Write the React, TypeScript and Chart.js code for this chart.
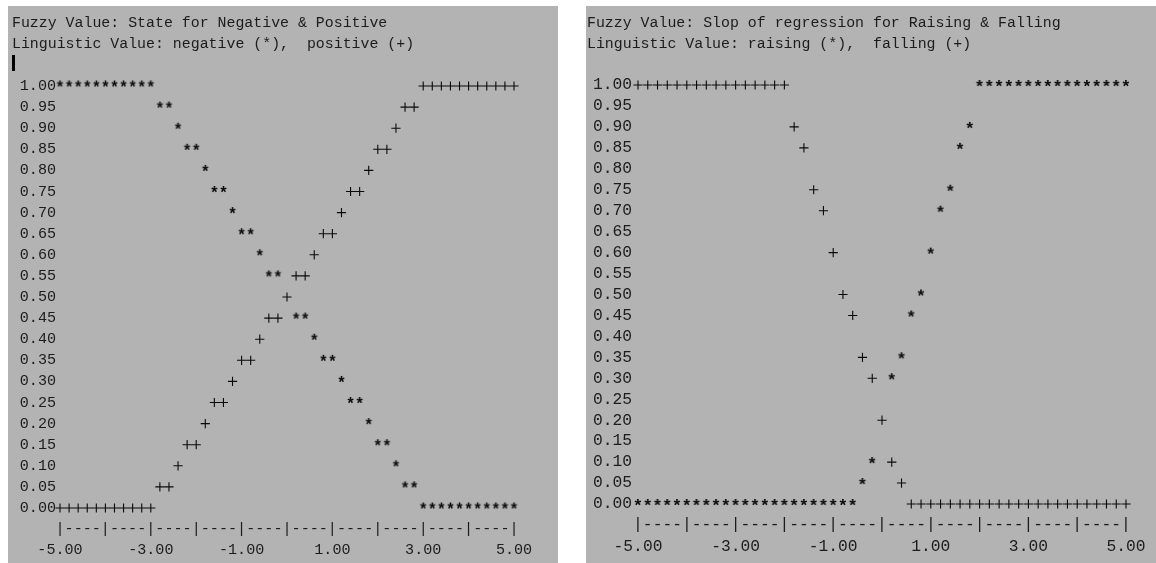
import React, { useEffect, useRef } from 'react';
import { Chart, registerables } from 'chart.js';

Chart.register(...registerables);

const MONO = '"Liberation Mono", "DejaVu Sans Mono", monospace';
const BG = '#b3b3b3';
const TEXT = '#1c1c1c';
const MARK = '#0a0a0a';

// ---- axis ticks ----
const xTickValues = [-5, -3, -1, 1, 3, 5];
const yTickValues = [0, 0.05, 0.1, 0.15, 0.2, 0.25, 0.3, 0.35, 0.4, 0.45, 0.5, 0.55, 0.6, 0.65, 0.7, 0.75, 0.8, 0.85, 0.9, 0.95, 1];

// ---- left panel: State for Negative & Positive ----
const leftTitle = ['Fuzzy Value: State for Negative & Positive', 'Linguistic Value: negative (*),  positive (+)'];
const negativeX = [
  -5.0, -4.8, -4.6, -4.4, -4.2, -4.0, -3.8, -3.6, -3.4, -3.2, -3.0,
  -2.8, -2.6, -2.4, -2.2, -2.0, -1.8, -1.6, -1.4, -1.2, -1.0, -0.8, -0.6, -0.4, -0.2,
  0.2, 0.4, 0.6, 0.8, 1.0, 1.2, 1.4, 1.6, 1.8, 2.0, 2.2, 2.4, 2.6, 2.8,
  3.0, 3.2, 3.4, 3.6, 3.8, 4.0, 4.2, 4.4, 4.6, 4.8, 5.0,
];
const negativeY = [
  1, 1, 1, 1, 1, 1, 1, 1, 1, 1, 1,
  0.95, 0.95, 0.9, 0.85, 0.85, 0.8, 0.75, 0.75, 0.7, 0.65, 0.65, 0.6, 0.55, 0.55,
  0.45, 0.45, 0.4, 0.35, 0.35, 0.3, 0.25, 0.25, 0.2, 0.15, 0.15, 0.1, 0.05, 0.05,
  0, 0, 0, 0, 0, 0, 0, 0, 0, 0, 0,
];
const positiveX = [
  -5.0, -4.8, -4.6, -4.4, -4.2, -4.0, -3.8, -3.6, -3.4, -3.2, -3.0,
  -2.8, -2.6, -2.4, -2.2, -2.0, -1.8, -1.6, -1.4, -1.2, -1.0, -0.8, -0.6, -0.4, -0.2,
  0.0,
  0.2, 0.4, 0.6, 0.8, 1.0, 1.2, 1.4, 1.6, 1.8, 2.0, 2.2, 2.4, 2.6, 2.8,
  3.0, 3.2, 3.4, 3.6, 3.8, 4.0, 4.2, 4.4, 4.6, 4.8, 5.0,
];
const positiveY = [
  0, 0, 0, 0, 0, 0, 0, 0, 0, 0, 0,
  0.05, 0.05, 0.1, 0.15, 0.15, 0.2, 0.25, 0.25, 0.3, 0.35, 0.35, 0.4, 0.45, 0.45,
  0.5,
  0.55, 0.55, 0.6, 0.65, 0.65, 0.7, 0.75, 0.75, 0.8, 0.85, 0.85, 0.9, 0.95, 0.95,
  1, 1, 1, 1, 1, 1, 1, 1, 1, 1, 1,
];

// ---- right panel: Slop of regression for Raising & Falling ----
const rightTitle = ['Fuzzy Value: Slop of regression for Raising & Falling', 'Linguistic Value: raising (*),  falling (+)'];
const raisingX = [
  -5.0, -4.8, -4.6, -4.4, -4.2, -4.0, -3.8, -3.6, -3.4, -3.2, -3.0, -2.8, -2.6, -2.4, -2.2, -2.0, -1.8, -1.6, -1.4, -1.2, -1.0, -0.8, -0.6,
  -0.4, -0.2, 0.2, 0.4, 0.6, 0.8, 1.0, 1.2, 1.4, 1.6, 1.8,
  2.0, 2.2, 2.4, 2.6, 2.8, 3.0, 3.2, 3.4, 3.6, 3.8, 4.0, 4.2, 4.4, 4.6, 4.8, 5.0,
];
const raisingY = [
  0, 0, 0, 0, 0, 0, 0, 0, 0, 0, 0, 0, 0, 0, 0, 0, 0, 0, 0, 0, 0, 0, 0,
  0.05, 0.1, 0.3, 0.35, 0.45, 0.5, 0.6, 0.7, 0.75, 0.85, 0.9,
  1, 1, 1, 1, 1, 1, 1, 1, 1, 1, 1, 1, 1, 1, 1, 1,
];
const fallingX = [
  -5.0, -4.8, -4.6, -4.4, -4.2, -4.0, -3.8, -3.6, -3.4, -3.2, -3.0, -2.8, -2.6, -2.4, -2.2, -2.0,
  -1.8, -1.6, -1.4, -1.2, -1.0, -0.8, -0.6, -0.4, -0.2, 0.0, 0.2, 0.4,
  0.6, 0.8, 1.0, 1.2, 1.4, 1.6, 1.8, 2.0, 2.2, 2.4, 2.6, 2.8, 3.0, 3.2, 3.4, 3.6, 3.8, 4.0, 4.2, 4.4, 4.6, 4.8, 5.0,
];
const fallingY = [
  1, 1, 1, 1, 1, 1, 1, 1, 1, 1, 1, 1, 1, 1, 1, 1,
  0.9, 0.85, 0.75, 0.7, 0.6, 0.5, 0.45, 0.35, 0.3, 0.2, 0.1, 0.05,
  0, 0, 0, 0, 0, 0, 0, 0, 0, 0, 0, 0, 0, 0, 0, 0, 0, 0, 0, 0, 0, 0, 0,
];

type Spec = {
  left: number; top: number; w: number; h: number;
  title: string[]; titleX: number; titleBase: number[]; titleSize: number;
  fontSize: number;
  padTop: number; padRight: number; yAxisW: number; xAxisH: number;
  yPad: number; xLabelDrop: number;
  starX: number[]; starY: number[]; plusX: number[]; plusY: number[];
  starLabel: string; plusLabel: string;
  cursor: boolean;
};

const specs: Spec[] = [
  {
    left: 8, top: 6, w: 550, h: 557,
    title: leftTitle, titleX: 4, titleBase: [21, 42], titleSize: 14.9,
    fontSize: 15.1,
    padTop: 80, padRight: 44, yAxisW: 52, xAxisH: 55, yPad: 4, xLabelDrop: 42,
    starX: negativeX, starY: negativeY, plusX: positiveX, plusY: positiveY,
    starLabel: 'negative', plusLabel: 'positive', cursor: true,
  },
  {
    left: 586, top: 6, w: 570, h: 557,
    title: rightTitle, titleX: 1, titleBase: [21, 42], titleSize: 14.9,
    fontSize: 16.3,
    padTop: 79, padRight: 30, yAxisW: 52, xAxisH: 59, yPad: 6, xLabelDrop: 42.5,
    starX: raisingX, starY: raisingY, plusX: fallingX, plusY: fallingY,
    starLabel: 'raising', plusLabel: 'falling', cursor: false,
  },
];

function makeGlyph(ch: string, size: number, lift: number) {
  const s = Math.ceil(size * 1.4);
  const c = document.createElement('canvas');
  c.width = s;
  c.height = s;
  const ctx = c.getContext('2d')!;
  ctx.font = `bold ${size}px ${MONO}`;
  ctx.fillStyle = MARK;
  ctx.textAlign = 'center';
  ctx.textBaseline = 'alphabetic';
  const m = ctx.measureText(ch);
  const asc = m.actualBoundingBoxAscent;
  const desc = m.actualBoundingBoxDescent;
  ctx.fillText(ch, s / 2, s / 2 + (asc - desc) / 2 - lift);
  return c;
}

function buildConfig(p: Spec): any {
  const font = { family: MONO, size: p.fontSize };
  const star = makeGlyph('*', p.fontSize * 1.05, 2);
  const titlePlugin = {
    id: 'asciiTitle',
    afterDraw(chart: any) {
      const ctx = chart.ctx;
      ctx.save();
      ctx.font = `${p.titleSize}px ${MONO}`;
      ctx.fillStyle = TEXT;
      ctx.textAlign = 'left';
      ctx.textBaseline = 'alphabetic';
      p.title.forEach((line, i) => ctx.fillText(line, p.titleX, p.titleBase[i]));
      ctx.restore();
    },
  };
  const rulerPlugin = {
    id: 'asciiRuler',
    afterDraw(chart: any) {
      const xs = chart.scales.x;
      const ys = chart.scales.y;
      const row = ys.getPixelForValue(0) - ys.getPixelForValue(0.05);
      const y = ys.getPixelForValue(0) + row;
      const ctx = chart.ctx;
      ctx.save();
      ctx.font = `${p.fontSize}px ${MONO}`;
      ctx.fillStyle = TEXT;
      ctx.textAlign = 'center';
      ctx.textBaseline = 'middle';
      const n = Math.round((xs.max - xs.min) / 0.2);
      for (let i = 0; i <= n; i++) {
        const v = xs.min + i * 0.2;
        ctx.fillText(i % 5 === 0 ? '|' : '-', xs.getPixelForValue(v), y);
      }
      ctx.restore();
    },
  };
  return {
    type: 'scatter',
    data: {
      datasets: [
        {
          label: p.starLabel,
          data: p.starX.map((x, i) => ({ x, y: p.starY[i] })),
          pointStyle: star,
          pointRadius: 4,
          clip: false,
        },
        {
          label: p.plusLabel,
          data: p.plusX.map((x, i) => ({ x, y: p.plusY[i] })),
          pointStyle: 'cross',
          pointRadius: 4.6,
          borderColor: MARK,
          backgroundColor: MARK,
          borderWidth: 1.1,
          clip: false,
        },
      ],
    },
    options: {
      responsive: false,
      animation: false,
      events: [],
      layout: { padding: { left: 0, top: p.padTop, right: p.padRight, bottom: 0 } },
      plugins: {
        legend: { display: false },
        title: { display: false },
        tooltip: { enabled: false },
      },
      scales: {
        x: {
          type: 'linear',
          min: -5,
          max: 5,
          grid: { display: false, drawTicks: false },
          border: { display: false },
          afterBuildTicks: (s: any) => { s.ticks = xTickValues.map((v) => ({ value: v })); },
          afterFit: (s: any) => { s.height = p.xAxisH; },
          ticks: {
            autoSkip: false,
            maxRotation: 0,
            padding: 0,
            font: { family: MONO, size: p.fontSize, lineHeight: `${2 * p.xLabelDrop}px` },
            color: TEXT,
            callback: (v: any) => Number(v).toFixed(2),
          },
        },
        y: {
          type: 'linear',
          min: 0,
          max: 1,
          grid: { display: false, drawTicks: false },
          border: { display: false },
          afterBuildTicks: (s: any) => { s.ticks = yTickValues.map((v) => ({ value: v })); },
          afterFit: (s: any) => { s.width = p.yAxisW; },
          ticks: {
            autoSkip: false,
            padding: p.yPad,
            font,
            color: TEXT,
            callback: (v: any) => Number(v).toFixed(2),
          },
        },
      },
    },
    plugins: [titlePlugin, rulerPlugin],
  };
}

function Panel({ spec }: { spec: Spec }) {
  const ref = useRef<HTMLCanvasElement>(null);
  useEffect(() => {
    const chart = new Chart(ref.current as HTMLCanvasElement, buildConfig(spec));
    return () => chart.destroy();
  }, [spec]);
  return (
    <div style={{ position: 'absolute', left: spec.left, top: spec.top, width: spec.w, height: spec.h, background: BG }}>
      <canvas ref={ref} width={spec.w} height={spec.h} style={{ display: 'block', width: spec.w, height: spec.h }} />
      {spec.cursor && (
        <div style={{ position: 'absolute', left: 4, top: 49, width: 3, height: 16, background: '#000' }} />
      )}
    </div>
  );
}

export default function App() {
  return (
    <div style={{ position: 'fixed', left: 0, top: 0, width: 1156, height: 563, background: '#fff', overflow: 'hidden' }}>
      {specs.map((s, i) => (
        <Panel key={i} spec={s} />
      ))}
    </div>
  );
}
